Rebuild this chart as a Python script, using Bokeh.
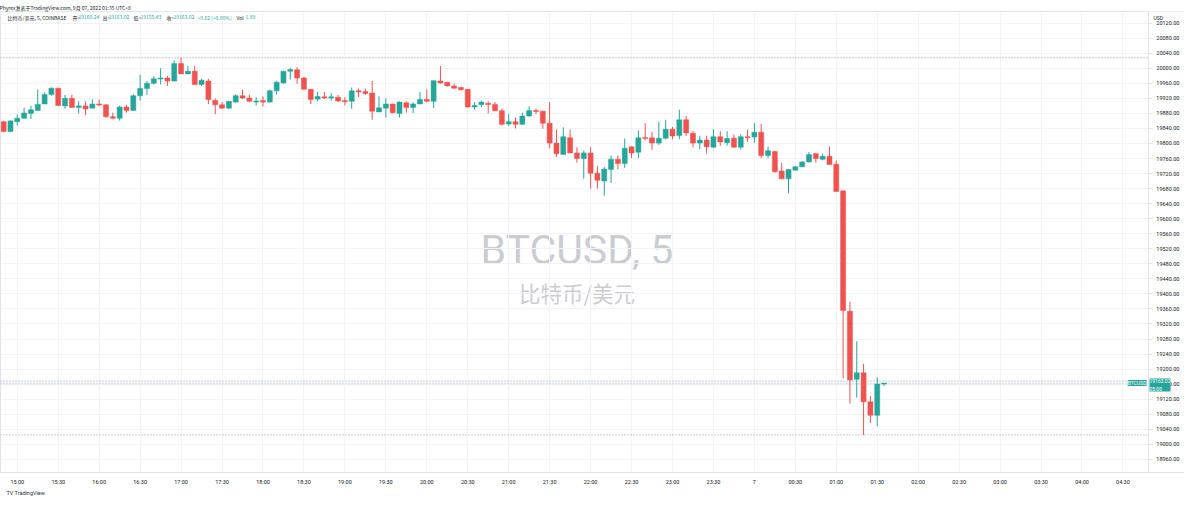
from bokeh.plotting import figure
from bokeh.models import (ColumnDataSource, FixedTicker, SingleIntervalTicker,
                          NumeralTickFormatter, Label, Range1d, Title)
from bokeh.core.properties import value
from bokeh.embed import file_html
from bokeh.resources import INLINE

# ---------------- data (5-minute bars, BTCUSD Coinbase) ----------------
first_bar_minute = -10   # first bar is 14:50, minutes relative to 15:00
bar_minutes = 5

opens = [
    19858, 19832, 19858, 19867, 19880, 19888, 19905, 19930, 19947, 19900,
    19920, 19896, 19900, 19894, 19905, 19903, 19871, 19867, 19897, 19888,
    19927, 19946, 19960, 19972, 19974, 19966, 20013, 19985, 19992, 19957,
    19966, 19914, 19903, 19894, 19910, 19927, 19921, 19911, 19914, 19910,
    19940, 19961, 19992, 19996, 19974, 19944, 19918, 19924, 19921, 19923,
    19914, 19912, 19940, 19938, 19934, 19884, 19894, 19905, 19880, 19908,
    19896, 19905, 19917, 19912, 19966, 19963, 19953, 19949, 19944, 19897,
    19903, 19907, 19904, 19887, 19852, 19858, 19851, 19873, 19888, 19886,
    19854, 19801, 19771, 19815, 19775, 19760, 19775, 19721, 19700, 19731,
    19758, 19747, 19791, 19777, 19816, 19815, 19801, 19814, 19838, 19821,
    19863, 19827, 19801, 19809, 19790, 19818, 19802, 19814, 19790, 19818,
    19817, 19830, 19768, 19779, 19727, 19706, 19729, 19738, 19751, 19773,
    19758, 19766, 19745, 19674, 19354, 19173, 19190, 19113, 19077, 19160.24,
]
highs = [
    19860, 19862, 19877, 19895, 19900, 19944, 19936, 19949, 19948, 19929,
    19929, 19912, 19912, 19917, 19917, 19904, 19882, 19901, 19903, 19931,
    19983, 19966, 19979, 20000, 19980, 20021, 20028, 20006, 20006, 19972,
    19972, 19920, 19910, 19913, 19931, 19943, 19930, 19923, 19925, 19943,
    19967, 19993, 20000, 20003, 19977, 19945, 19937, 19937, 19934, 19929,
    19923, 19949, 19946, 19946, 19966, 19925, 19920, 19906, 19912, 19912,
    19910, 19937, 19944, 19968, 20006, 19964, 19959, 19951, 19945, 19910,
    19914, 19912, 19910, 19893, 19878, 19869, 19882, 19899, 19893, 19887,
    19910, 19837, 19843, 19837, 19790, 19781, 19790, 19740, 19738, 19768,
    19768, 19813, 19792, 19835, 19854, 19831, 19858, 19863, 19844, 19890,
    19873, 19833, 19821, 19821, 19838, 19833, 19833, 19824, 19824, 19837,
    19854, 19852, 19792, 19780, 19749, 19732, 19740, 19753, 19777, 19774,
    19773, 19792, 19755, 19675, 19379, 19274, 19214, 19128, 19178, 19163.02,
]
lows = [
    19830, 19831, 19848, 19866, 19865, 19888, 19905, 19927, 19899, 19892,
    19895, 19880, 19875, 19894, 19899, 19869, 19864, 19861, 19882, 19888,
    19914, 19929, 19957, 19957, 19953, 19965, 19985, 19985, 19957, 19953,
    19905, 19878, 19892, 19892, 19909, 19918, 19910, 19901, 19899, 19909,
    19930, 19959, 19970, 19959, 19944, 19905, 19912, 19918, 19914, 19910,
    19901, 19892, 19923, 19929, 19863, 19884, 19869, 19880, 19869, 19882,
    19881, 19905, 19910, 19894, 19959, 19952, 19946, 19941, 19895, 19890,
    19897, 19880, 19886, 19848, 19847, 19840, 19850, 19871, 19878, 19839,
    19787, 19764, 19770, 19775, 19749, 19706, 19680, 19680, 19661, 19695,
    19731, 19735, 19761, 19761, 19808, 19783, 19796, 19811, 19811, 19811,
    19820, 19790, 19784, 19773, 19788, 19794, 19794, 19789, 19784, 19804,
    19802, 19761, 19761, 19722, 19706, 19667, 19729, 19737, 19750, 19749,
    19755, 19744, 19672, 19175, 19108, 19124, 19025, 19057, 19048, 19155.43,
]
closes = [
    19832, 19860, 19867, 19881, 19890, 19904, 19930, 19947, 19901, 19920,
    19896, 19900, 19892, 19905, 19903, 19871, 19867, 19897, 19888, 19927,
    19946, 19960, 19972, 19974, 19966, 20013, 19985, 19992, 19957, 19968,
    19917, 19903, 19894, 19912, 19927, 19921, 19912, 19913, 19910, 19940,
    19963, 19992, 19997, 19974, 19944, 19917, 19925, 19921, 19924, 19913,
    19911, 19940, 19937, 19933, 19886, 19895, 19905, 19882, 19910, 19896,
    19905, 19917, 19912, 19967, 19961, 19953, 19947, 19943, 19897, 19901,
    19910, 19904, 19887, 19851, 19858, 19851, 19873, 19888, 19885, 19854,
    19801, 19773, 19818, 19775, 19760, 19775, 19721, 19702, 19732, 19758,
    19747, 19787, 19775, 19815, 19813, 19801, 19814, 19838, 19820, 19863,
    19828, 19801, 19809, 19791, 19818, 19804, 19813, 19790, 19818, 19816,
    19830, 19768, 19781, 19725, 19706, 19731, 19738, 19751, 19771, 19760,
    19766, 19744, 19672, 19356, 19171, 19190, 19113, 19077, 19160.24, 19163.02,
]

tick_minutes = list(range(0, 811, 30))
tick_labels = ["15:00", "15:30", "16:00", "16:30", "17:00", "17:30", "18:00",
               "18:30", "19:00", "19:30", "20:00", "20:30", "21:00", "21:30",
               "22:00", "22:30", "23:00", "23:30", "7", "00:30", "01:00",
               "01:30", "02:00", "02:30", "03:00", "03:30", "04:00", "04:30"]

header_line1 = "Phyrex发表于TradingView.com, 9月 07, 2022 01:35 UTC+8"
legend_parts = [("比特币/美元, 5, COINBASE", "dark"), ("开=", "dark"), ("19160.24", "val"),
                ("高=", "dark"), ("19163.02", "val"), ("低=", "dark"), ("19155.43", "val"),
                ("收=", "dark"), ("19163.02", "val"), ("+0.62 (+0.00%)", "val"),
                ("Vol", "dark"), ("1.89", "val")]
legend_x = [7, 72, 78, 102, 108, 133, 140, 166, 173, 197, 236, 245]

# ---------------- styling ----------------
GREEN = "#26a69a"
RED = "#ef5350"
TEXT = "#131722"
CJK = "Noto Sans CJK SC"
LAT = "Roboto"

X0, X1 = -12.3, 855.1          # visible minutes (pane + price-scale strip)
PANE_EDGE = 828.6              # minute where the price scale strip starts
Y0, Y1 = 18925, 20151

xs = [first_bar_minute + i * bar_minutes for i in range(len(opens))]
colors = [GREEN if c >= o else RED for o, c in zip(opens, closes)]
tops = [max(o, c) for o, c in zip(opens, closes)]
bots = [min(o, c) for o, c in zip(opens, closes)]
bots = [b if t - b >= 2.5 else t - 2.5 for t, b in zip(tops, bots)]

src = ColumnDataSource(dict(x=xs, high=highs, low=lows, top=tops, bottom=bots, color=colors))

p = figure(width=1184, height=498, output_backend="svg", toolbar_location=None,
           x_range=Range1d(X0, X1), y_range=Range1d(Y0, Y1),
           y_axis_location="right", min_border_left=0, min_border_right=0,
           min_border_top=11, min_border_bottom=26)
p.background_fill_color = "white"
p.border_fill_color = "white"
p.outline_line_color = "#e0e3eb"

# header line 1 (title) and footer (title below)
p.title.text = header_line1
p.title.text_font = CJK
p.title.text_font_size = "5px"
p.title.text_font_style = "normal"
p.title.text_color = TEXT
p.title.align = "left"
p.title.standoff = 2
p.title.offset = -1
p.add_layout(Title(text="TV  TradingView", text_font=LAT, text_font_size="5.5px",
                   text_font_style="normal", text_color="#2a2e39", align="left",
                   standoff=0, offset=6), "below")

# axes & grid
p.xaxis.ticker = FixedTicker(ticks=tick_minutes)
p.xaxis.major_label_overrides = {m: l for m, l in zip(tick_minutes, tick_labels)}
p.yaxis.ticker = SingleIntervalTicker(interval=40, num_minor_ticks=0)
p.yaxis.formatter = NumeralTickFormatter(format="0.00")
p.yaxis.fixed_location = PANE_EDGE
p.xgrid.grid_line_color = "#f2f3f7"
p.ygrid.grid_line_color = "#f2f3f7"

for ax in (p.xaxis[0], p.yaxis[0]):
    ax.axis_line_color = "#e0e3eb"
    ax.major_tick_line_color = "#e0e3eb"
    ax.minor_tick_line_color = None
    ax.major_label_text_color = TEXT
    ax.major_label_text_font = LAT
    ax.major_label_text_font_size = "5.5px"
p.xaxis.major_tick_out = 0
p.xaxis.major_tick_in = 0
p.xaxis.major_label_standoff = 6
p.yaxis.major_tick_out = 4
p.yaxis.major_tick_in = 0
p.yaxis.major_label_standoff = 4

# white strip behind the price scale (hides grid lines there)
p.quad(left=[PANE_EDGE], right=[X1 + 10], bottom=[Y0 - 10], top=[Y1 + 10],
       fill_color="white", line_color=None)

# watermark
p.text(x=[410], y=[19518], text=["BTCUSD, 5"], text_align="center", text_baseline="middle",
       text_font=value(LAT), text_font_size="41px", text_color="#cbccd1", level="underlay")
p.text(x=[410], y=[19403], text=["比特币/美元"], text_align="center", text_baseline="middle",
       text_font=value(CJK), text_font_size="21.5px", text_color="#cbccd1", level="underlay")

# high / low / price lines (dotted, across the pane)
hl_levels = [max(highs), min(lows), closes[-1] + 5]
p.segment(x0=[X0] * 3, x1=[PANE_EDGE] * 3, y0=hl_levels, y1=hl_levels,
          line_color="#9598a1", line_dash="1 2", line_width=1)
p.segment(x0=[X0], x1=[PANE_EDGE], y0=[closes[-1] - 2], y1=[closes[-1] - 2],
          line_color="#8fa3e8", line_dash="1 2", line_width=1)

# candles
p.segment(x0="x", y0="low", x1="x", y1="high", color="color", line_width=1, source=src)
p.vbar(x="x", top="top", bottom="bottom", width=3.7, fill_color="color",
       line_color="color", line_width=0.5, source=src)

# legend line (inside pane)
for (t, kind), lx in zip(legend_parts, legend_x):
    p.add_layout(Label(x=lx, y=455.5, x_units="screen", y_units="screen", text=t,
                       text_font=CJK, text_font_size="5px",
                       text_color=GREEN if kind == "val" else TEXT,
                       text_baseline="middle"))

# price scale labels
p.add_layout(Label(x=1153, y=455, x_units="screen", y_units="screen", text="USD",
                   text_font=LAT, text_font_size="5px", text_color=TEXT,
                   text_baseline="middle", background_fill_color="white"))
p.add_layout(Label(x=1149, y=closes[-1], x_units="screen", y_units="data",
                   text="19163.02\n05:00", text_font=LAT, text_font_size="5px",
                   text_color="white", text_baseline="middle", y_offset=-2,
                   background_fill_color=GREEN))
p.add_layout(Label(x=1146, y=closes[-1], x_units="screen", y_units="data",
                   text="BTCUSD", text_font=LAT, text_font_size="5px",
                   text_color="white", text_baseline="middle", text_align="right",
                   background_fill_color=GREEN))

open("out.html", "w").write(file_html(p, INLINE))
